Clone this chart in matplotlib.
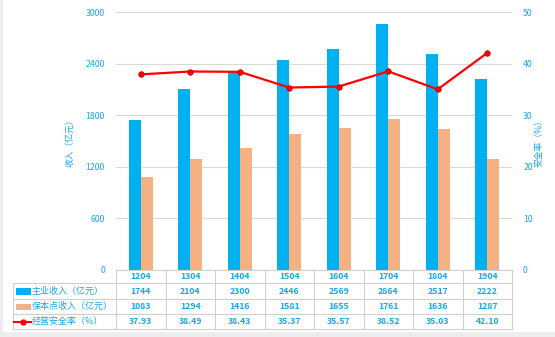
import numpy as np
import matplotlib
matplotlib.use("Agg")
import matplotlib.pyplot as plt
from matplotlib.patches import Rectangle
from matplotlib.lines import Line2D
from matplotlib.transforms import blended_transform_factory

plt.rcParams['font.family'] = ['Noto Sans CJK SC', 'DejaVu Sans']

# 季度数据
quarters = ["1204", "1304", "1404", "1504", "1604", "1704", "1804", "1904"]
revenue = [1744, 2104, 2300, 2446, 2569, 2864, 2517, 2222]
breakeven = [1083, 1294, 1416, 1581, 1655, 1761, 1636, 1287]
safety_rate = [37.93, 38.49, 38.43, 35.37, 35.57, 38.52, 35.03, 42.10]

row_names = ["主业收入（亿元）", "保本点收入（亿元）", "经营安全率（%）"]

BLUE = "#00B0F0"
ORANGE = "#F4B183"
RED = "#FF0000"
TXT = "#1AA7E6"
GRID = "#D9D9D9"

W, H = 555, 337
fig = plt.figure(figsize=(W / 100, H / 100), dpi=100)
fig.patch.set_facecolor("#EDEDED")
fig.add_artist(Rectangle((3 / W, 1 - 332 / H), 1, 332 / H, transform=fig.transFigure,
                         facecolor="white", edgecolor="none", zorder=-10))


def fy(py):
    return 1 - py / H


def fx(px):
    return px / W


ax_l, ax_r, ax_t, ax_b = 116, 512, 12.3, 269.5
ax = fig.add_axes([fx(ax_l), fy(ax_b), (ax_r - ax_l) / W, (ax_b - ax_t) / H])
ax.set_facecolor("none")
x = np.arange(len(quarters))
bw = 0.24
ax.bar(x - bw / 2, revenue, bw, color=BLUE, zorder=3)
ax.bar(x + bw / 2, breakeven, bw, color=ORANGE, zorder=3)
ax.set_xlim(-0.5, len(quarters) - 0.5)
ax.set_ylim(0, 3000)
ax.set_yticks(np.arange(0, 3001, 600))
ax.grid(axis="y", color=GRID, linewidth=0.8, zorder=0)
ax.set_xticks([])
for s in ax.spines.values():
    s.set_visible(False)
ax.tick_params(axis="y", length=0, labelsize=6.3, labelcolor=TXT, pad=8)
ax.set_ylabel("收入（亿元）", fontsize=6.3, color=TXT, labelpad=8)

ax2 = ax.twinx()
ax2.plot(x, safety_rate, color=RED, linewidth=1.6, marker="o", markersize=4,
         markeredgecolor="#C00000", markeredgewidth=0.5, zorder=5)
ax2.set_ylim(0, 50)
ax2.set_yticks(np.arange(0, 51, 10))
for s in ax2.spines.values():
    s.set_visible(False)
ax2.tick_params(axis="y", length=0, labelsize=6.3, labelcolor=TXT, pad=8)
ax2.set_ylabel("安全率（%）", fontsize=6.3, color=TXT, labelpad=1)

# 数据表
tr = blended_transform_factory(ax.transData, fig.transFigure)
rows_y = [269.5, 283.3, 299.0, 314.3, 329.0]
line_kw = dict(color="#D0D0D0", linewidth=0.8)
fig.add_artist(Line2D([fx(ax_l), fx(ax_r)], [fy(rows_y[0])] * 2, transform=fig.transFigure, **line_kw))
for yy in rows_y[1:]:
    fig.add_artist(Line2D([fx(13), fx(ax_r)], [fy(yy)] * 2, transform=fig.transFigure, **line_kw))
fig.add_artist(Line2D([fx(13), fx(13)], [fy(rows_y[1]), fy(rows_y[-1])], transform=fig.transFigure, **line_kw))
for xb in np.arange(-0.5, len(quarters), 1.0):
    fig.add_artist(Line2D([xb, xb], [fy(rows_y[0]), fy(rows_y[-1])], transform=tr, **line_kw))

centers = [(rows_y[i] + rows_y[i + 1]) / 2 for i in range(4)]
cell_rows = [quarters, [str(v) for v in revenue], [str(v) for v in breakeven],
             [f"{v:.2f}" for v in safety_rate]]
for r, vals in enumerate(cell_rows):
    for i, v in enumerate(vals):
        fig.text(x[i], fy(centers[r]), v, transform=tr, ha="center", va="center",
                 fontsize=6.3, color=TXT, fontweight="bold")

# 行标题与图例标记
fig.add_artist(Rectangle((fx(16), fy(294.5)), 15 / W, 6.5 / H, transform=fig.transFigure,
                         facecolor=BLUE, edgecolor="none"))
fig.add_artist(Rectangle((fx(16), fy(310)), 15 / W, 6.5 / H, transform=fig.transFigure,
                         facecolor=ORANGE, edgecolor="none"))
fig.add_artist(Line2D([fx(14), fx(31)], [fy(centers[3])] * 2, transform=fig.transFigure,
                      color=RED, linewidth=1.5, marker=None))
fig.add_artist(Line2D([fx(22.5)], [fy(centers[3])], transform=fig.transFigure,
                      color=RED, marker="o", markersize=3.5, linestyle="none"))
for r, name in enumerate(row_names):
    fig.text(fx(32), fy(centers[r + 1]), name, ha="left", va="center",
             fontsize=6.5, color=TXT)

fig.savefig("out.png", dpi=100)
